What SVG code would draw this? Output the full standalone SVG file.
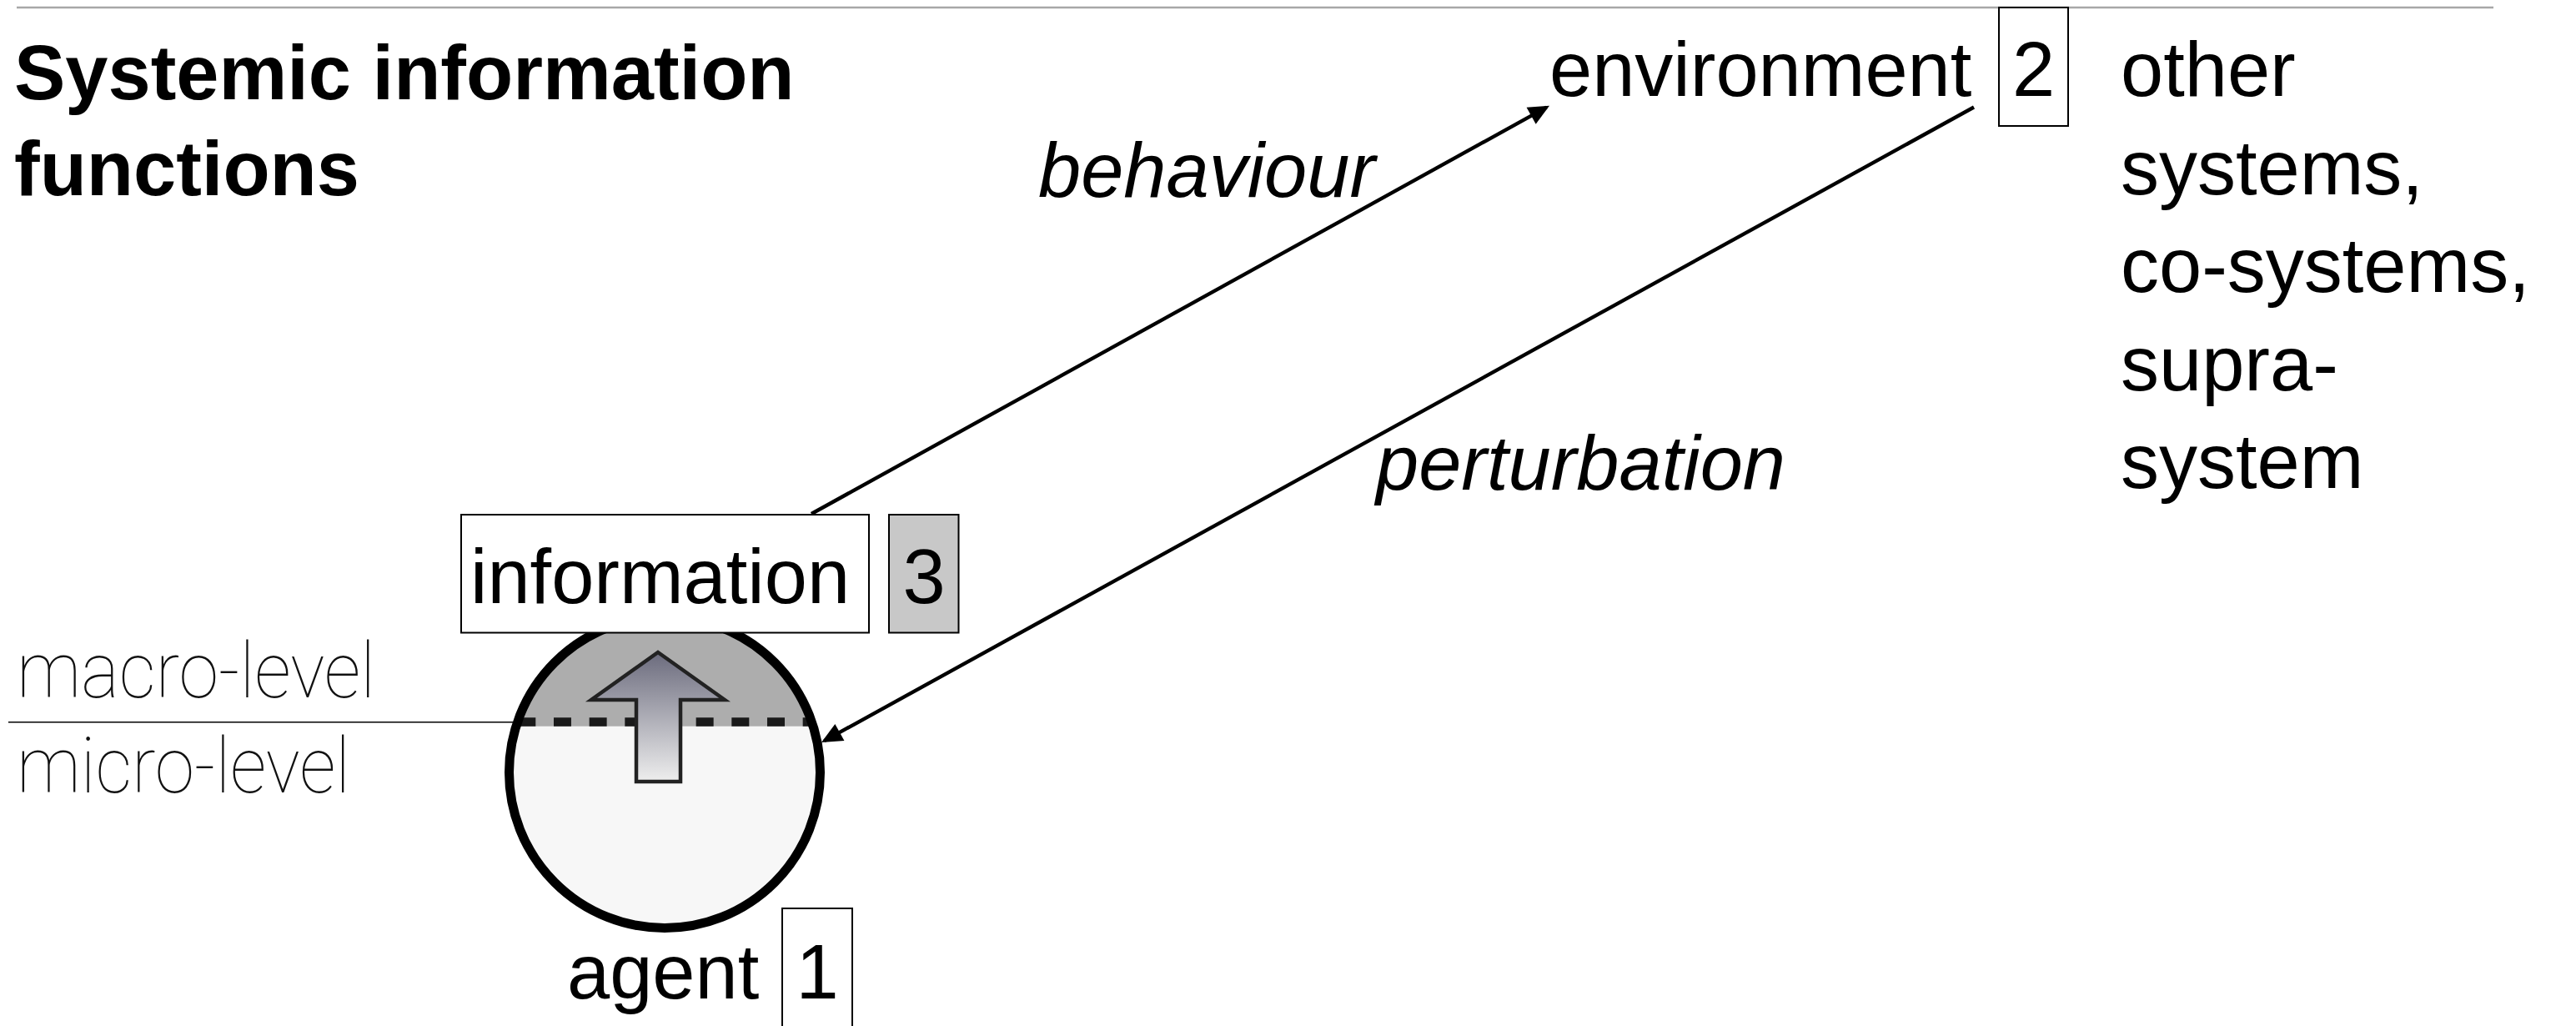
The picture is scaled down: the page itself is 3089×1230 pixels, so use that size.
<svg xmlns="http://www.w3.org/2000/svg" width="3089" height="1230" viewBox="0 0 3089 1230">
  <style>
    .t { font-family: "Liberation Sans", Arial, sans-serif; font-size: 92px; fill: #000; }
    .b { font-weight: bold; }
    .i { font-style: italic; }
    .thin { font-family: Roboto, "Liberation Sans", Arial, sans-serif; font-weight: 100; font-size: 92px; fill: #111; }
    .box { fill: #fff; stroke: #000; stroke-width: 2; }
    .conn { stroke: #000; stroke-width: 4.4; fill: none; marker-end: url(#ah); }
  </style>
  <defs>
    <marker id="ah" markerUnits="userSpaceOnUse" viewBox="-30 -14 34 28" markerWidth="34" markerHeight="28" refX="-4" refY="0" orient="auto">
      <path d="M0,0 L-25,-11.5 L-25,11.5 Z" fill="#000"/>
    </marker>
    <linearGradient id="ag" x1="0" y1="0" x2="0" y2="1">
      <stop offset="0" stop-color="#6b6b7d"/>
      <stop offset="1" stop-color="#eeeeee"/>
    </linearGradient>
    <clipPath id="cc">
      <circle cx="797" cy="926" r="186.5"/>
    </clipPath>
  </defs>

  <!-- top rule -->
  <line x1="20" y1="9" x2="2990" y2="9" stroke="#a8a8a8" stroke-width="2.5"/>

  <!-- title -->
  <g id="title">
    <text class="t b" x="17" y="119">Systemic information</text>
    <text class="t b" x="17" y="234">functions</text>
  </g>

  <!-- level labels -->
  <g id="levels">
    <text class="thin" x="20" y="836" textLength="430" lengthAdjust="spacingAndGlyphs">macro-level</text>
    <line x1="10" y1="865.7" x2="615" y2="865.7" stroke="#000" stroke-width="1.5"/>
    <text class="thin" x="20" y="950" textLength="400" lengthAdjust="spacingAndGlyphs">micro-level</text>
  </g>

  <!-- agent -->
  <g id="agent">
    <circle cx="797" cy="926" r="186.5" fill="#f7f7f7"/>
    <rect x="600" y="720" width="400" height="150.7" fill="#adadad" clip-path="url(#cc)"/>
    <line x1="621.3" y1="865.5" x2="990" y2="865.5" stroke="#1a1a1a" stroke-width="10.5" stroke-dasharray="21 21.67" clip-path="url(#cc)"/>
    <circle cx="797" cy="926" r="186.5" fill="none" stroke="#000" stroke-width="11"/>
    <path d="M789,782 L869,839 L816,839 L816,937 L763,937 L763,839 L709,839 Z" fill="url(#ag)" stroke="#222" stroke-width="4.5" stroke-linejoin="miter"/>
    <text class="t" x="680" y="1197">agent</text>
    <rect class="box" x="938" y="1089" width="84" height="150"/>
    <text class="t" x="980" y="1197" text-anchor="middle">1</text>
  </g>

  <!-- information -->
  <g id="information">
    <rect class="box" x="553" y="617" width="489" height="141.5"/>
    <text class="t" x="564" y="722.5">information</text>
    <rect x="1066" y="617" width="83.5" height="141.5" fill="#c8c8c8" stroke="#000" stroke-width="2"/>
    <text class="t" x="1108" y="722.5" text-anchor="middle">3</text>
  </g>

  <!-- environment -->
  <g id="environment">
    <text class="t" x="1858" y="115">environment</text>
    <rect class="box" x="2397" y="9" width="83" height="142"/>
    <text class="t" x="2438.5" y="115" text-anchor="middle">2</text>
  </g>

  <!-- other systems -->
  <g id="others">
    <text class="t" x="2543" y="115">other</text>
    <text class="t" x="2543" y="233">systems,</text>
    <text class="t" x="2543" y="350">co-systems,</text>
    <text class="t" x="2543" y="467.5">supra-</text>
    <text class="t" x="2543" y="585">system</text>
  </g>

  <!-- connectors -->
  <g id="connectors">
    <line class="conn" x1="973" y1="616" x2="1854.5" y2="128.6"/>
    <line class="conn" x1="2367" y1="128.5" x2="988.5" y2="888.1"/>
    <text class="t i" x="1245" y="235.5">behaviour</text>
    <text class="t i" x="1650" y="587">perturbation</text>
  </g>
</svg>
